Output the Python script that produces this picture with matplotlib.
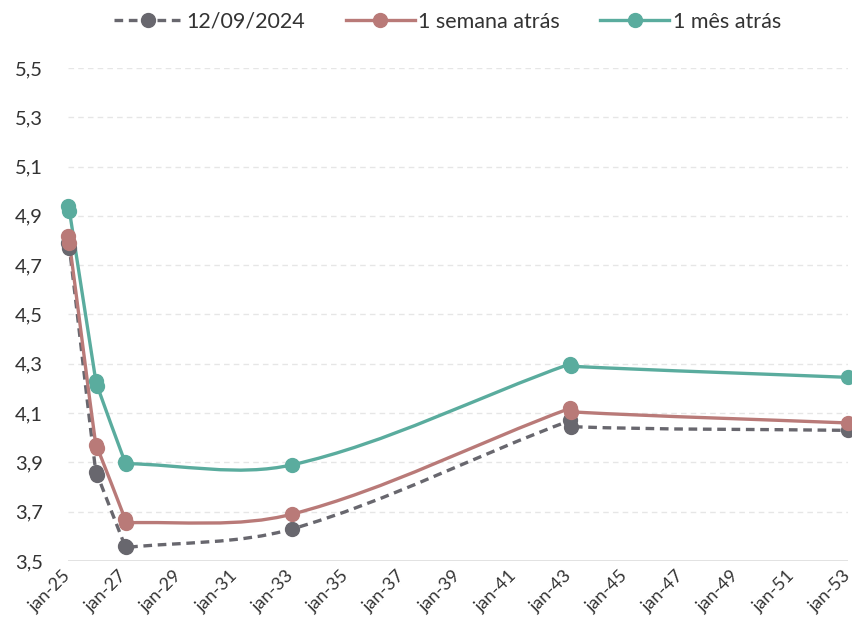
import datetime as dt
import math
import matplotlib
matplotlib.use("Agg")
import matplotlib.pyplot as plt
import matplotlib.dates as mdates
import matplotlib.transforms as mtrans
from matplotlib.path import Path
from matplotlib.patches import PathPatch
from matplotlib.lines import Line2D

plt.rcParams["font.family"] = ["Lato", "DejaVu Sans"]

# ------------------------------------------------------------
# dados
# ------------------------------------------------------------
datas = [dt.date(2025, 1, 1), dt.date(2025, 1, 20),
         dt.date(2026, 1, 1), dt.date(2026, 1, 20),
         dt.date(2027, 1, 20), dt.date(2027, 2, 5),
         dt.date(2033, 1, 15),
         dt.date(2043, 1, 15), dt.date(2043, 1, 25),
         dt.date(2053, 1, 1)]

hoje    = [4.79, 4.77, 3.86, 3.85, 3.56, 3.555, 3.63, 4.07, 4.045, 4.03]
semana  = [4.82, 4.79, 3.97, 3.96, 3.67, 3.655, 3.69, 4.12, 4.105, 4.06]
mes     = [4.94, 4.92, 4.23, 4.21, 3.90, 3.895, 3.89, 4.30, 4.29, 4.245]

series  = ["12/09/2024", "1 semana atrás", "1 mês atrás"]
CORES   = ["#68676e", "#b97a78", "#5aac9e"]
TRACO   = (0, (2.6, 1.7))

anos_ticks = list(range(2025, 2054, 2))
rotulos_x  = [f"jan-{a % 100}" for a in anos_ticks]
y_ticks    = [3.5, 3.7, 3.9, 4.1, 4.3, 4.5, 4.7, 4.9, 5.1, 5.3, 5.5]
rotulos_y  = [f"{v:.1f}".replace(".", ",") for v in y_ticks]

# escala aproximada em pixels (para a suavização não fazer laços)
SX = 27.8 / 365.25   # px por dia
SY = 245.0           # px por unidade


def caminho_suave(x, y):
    n = len(x)
    px = [v * SX for v in x]
    py = [v * SY for v in y]
    tang = []
    for i in range(n):
        i0 = max(i - 1, 0)
        i1 = min(i + 1, n - 1)
        dx, dy = px[i1] - px[i0], py[i1] - py[i0]
        nrm = math.hypot(dx, dy) or 1.0
        tang.append((dx / nrm, dy / nrm))
    verts = [(x[0], y[0])]
    codes = [Path.MOVETO]
    for i in range(n - 1):
        seg = math.hypot(px[i + 1] - px[i], py[i + 1] - py[i]) / 3
        c1 = (px[i] + tang[i][0] * seg, py[i] + tang[i][1] * seg)
        c2 = (px[i + 1] - tang[i + 1][0] * seg, py[i + 1] - tang[i + 1][1] * seg)
        verts += [(c1[0] / SX, c1[1] / SY), (c2[0] / SX, c2[1] / SY), (x[i + 1], y[i + 1])]
        codes += [Path.CURVE4] * 3
    return Path(verts, codes)


fig = plt.figure(figsize=(8.52, 6.35), dpi=100)
ax = fig.add_axes([0.0798, 0.1165, 0.9155, 0.7765])

xs = list(mdates.date2num(datas))
handles = []
for nome, vals, cor in zip(series, [hoje, semana, mes], CORES):
    ls = TRACO if nome == series[0] else "-"
    patch = PathPatch(caminho_suave(xs, vals), facecolor="none", edgecolor=cor,
                      lw=2.4, linestyle=ls, clip_on=False, zorder=3)
    ax.add_patch(patch)
    ax.plot(xs, vals, "o", color=cor, ms=10, clip_on=False, zorder=4)
    handles.append(Line2D([], [], color=cor, lw=2.4, linestyle=ls, marker="o", ms=10))

ax.set_xlim(mdates.date2num(dt.date(2025, 1, 1)), mdates.date2num(dt.date(2053, 1, 1)))
ax.set_ylim(3.5, 5.5)

ax.set_xticks([mdates.date2num(dt.date(a, 1, 1)) for a in anos_ticks])
ax.set_xticklabels(rotulos_x, rotation=45, ha="right", va="center", rotation_mode="anchor",
                   fontsize=13, color="#333333")
desloc = mtrans.ScaledTranslation(-8 / 100, 0, fig.dpi_scale_trans)
for lbl in ax.get_xticklabels():
    lbl.set_transform(lbl.get_transform() + desloc)
ax.set_yticks(y_ticks)
ax.set_yticklabels(rotulos_y, fontsize=14.5, color="#333333")
ax.tick_params(axis="both", length=0)
ax.tick_params(axis="x", pad=9)
ax.tick_params(axis="y", pad=18)

for v in y_ticks[1:]:
    ax.axhline(v, color="#e6e6e6", lw=1, linestyle=(0, (4, 3)), zorder=1)
ax.axhline(3.5, color="#d9d9d9", lw=1.8, zorder=1)

for s in ax.spines.values():
    s.set_visible(False)

fig.legend(handles, series, loc="upper center", bbox_to_anchor=(0.525, 1.012), ncol=3,
           frameon=False, fontsize=15.5, handlelength=3.2, columnspacing=1.9,
           handletextpad=0.15, labelcolor="#333333")

fig.savefig("out.png", dpi=100)
